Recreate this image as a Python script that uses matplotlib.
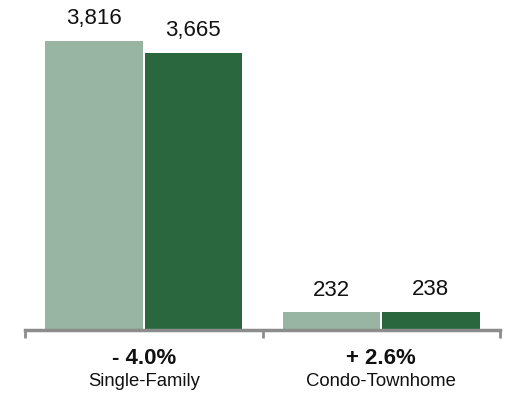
import matplotlib.pyplot as plt

plt.rcParams['font.family'] = ['Liberation Sans', 'DejaVu Sans']

categories = ["Single-Family", "Condo-Townhome"]
prior_year = [3816, 232]
current_year = [3665, 238]
pct_change = ["- 4.0%", "+ 2.6%"]

light = "#97B5A2"
dark = "#2A673F"
axis_gray = "#8C8C8C"

fig = plt.figure(figsize=(5.05, 3.98), dpi=100)
ax = fig.add_axes([25 / 505, 1 - 330 / 398, 475 / 505, 330 / 398])

centers = [0.5, 1.5]
w = 0.41
off = 0.209
left_x = [c - off for c in centers]
right_x = [c + off for c in centers]
ax.bar(left_x, prior_year, width=w, color=light)
ax.bar(right_x, current_year, width=w, color=dark)

# value labels above each bar
for x, v in zip(left_x + right_x, prior_year + current_year):
    ax.annotate(f"{v:,}", (x, v), xytext=(0, 12), textcoords="offset points",
                ha="center", va="baseline", fontsize=16, color="#111111")

# percent change + category name under the axis
for c, p, name in zip(centers, pct_change, categories):
    ax.text(c, -0.103, p, transform=ax.get_xaxis_transform(), ha="center",
            va="baseline", fontsize=16, fontweight="bold", color="#111111")
    ax.text(c, -0.170, name, transform=ax.get_xaxis_transform(), ha="center",
            va="baseline", fontsize=13.3, color="#111111")

ax.set_xlim(0, 2)
ax.set_ylim(0, 3816 * 329 / 288)
for s in ["top", "right", "left"]:
    ax.spines[s].set_visible(False)
ax.spines["bottom"].set_color(axis_gray)
ax.spines["bottom"].set_linewidth(2.5)
ax.set_yticks([])
ax.set_xticks([0, 1, 2])
ax.set_xticklabels([])
ax.tick_params(axis="x", length=6, width=2, color=axis_gray)

fig.savefig("out.png", dpi=100)
